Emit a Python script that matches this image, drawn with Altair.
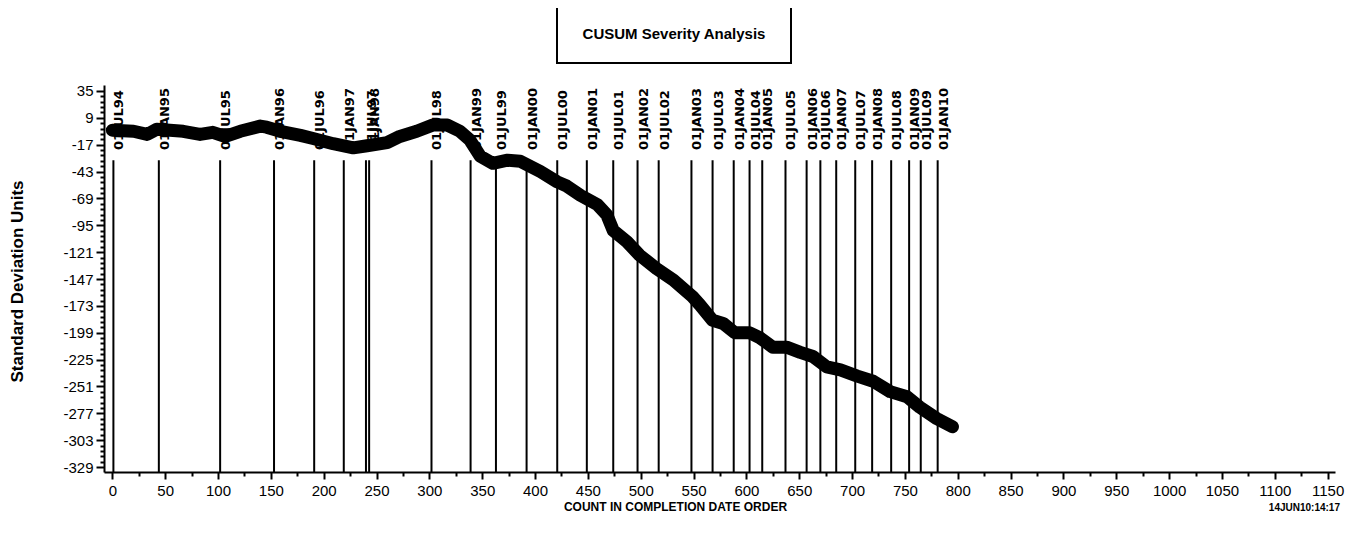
import altair as alt
import pandas as pd

# CUSUM curve (count in completion date order vs standard deviation units)
counts = [0, 20, 33, 42, 67, 83, 95, 107, 121, 140, 146, 159, 178, 190, 209, 228, 241,
          260, 272, 288, 303, 317, 329, 338, 348, 360, 374, 386, 405, 421, 430, 443,
          459, 468, 474, 487, 499, 515, 531, 549, 556, 568, 578, 589, 603, 613, 625,
          638, 651, 663, 676, 689, 705, 720, 736, 752, 764, 780, 795]
cusum = [-3, -4, -7, -2, -4, -7, -5, -9, -4, 1, 0, -4, -8, -11, -16, -20, -18,
         -15, -9, -4, 2, 2, -4, -12, -28, -35, -32, -33, -43, -53, -57, -66,
         -75, -85, -100, -111, -124, -137, -148, -164, -172, -187, -190, -199, -199, -204, -213,
         -213, -218, -222, -232, -235, -241, -246, -256, -261, -271, -282, -290]

# Half-year date markers and the count at which each occurs
event_labels = ["01JUL94", "01JAN95", "01JUL95", "01JAN96", "01JUL96", "01JAN97",
                "01JUL97", "01JAN98", "01JUL98", "01JAN99", "01JUL99", "01JAN00",
                "01JUL00", "01JAN01", "01JUL01", "01JAN02", "01JUL02", "01JAN03",
                "01JUL03", "01JAN04", "01JUL04", "01JAN05", "01JUL05", "01JAN06",
                "01JUL06", "01JAN07", "01JUL07", "01JAN08", "01JUL08", "01JAN09",
                "01JUL09", "01JAN10"]
event_counts = [1, 44, 102, 153, 191, 219, 240, 243, 302, 339, 363, 392, 421, 449,
                474, 497, 517, 548, 568, 588, 603, 615, 637, 657, 670, 685, 703, 719,
                737, 754, 765, 781]
event_top = -32

x_ticks = list(range(0, 1151, 25))
y_ticks = [round(35 - 5.2 * k, 1) for k in range(71)]

title_text = "CUSUM Severity Analysis"
x_title = "COUNT IN COMPLETION DATE ORDER"
y_title = "Standard Deviation Units"
stamp_text = "14JUN10:14:17"

W, H = 1231, 387
FONT = "Liberation Sans Narrow, Arial Narrow, Liberation Sans, sans-serif"

df_curve = pd.DataFrame({"x": counts, "y": cusum})
df_events = pd.DataFrame({"x": event_counts, "y": [event_top] * len(event_counts),
                          "label": event_labels})

x_scale = alt.Scale(domain=[-7.9, 1157], nice=False, zero=False)
y_scale = alt.Scale(domain=[-333.8, 40.8], nice=False, zero=False)

y_major = "abs((35 - datum.value) / 26 - round((35 - datum.value) / 26)) < 0.01"
x_major = "datum.value % 50 == 0"

x_axis = alt.Axis(
    values=x_ticks, tickCount=1000, grid=False,
    labelExpr=f"{x_major} ? '' + datum.value : ''",
    tickSize={"condition": {"test": x_major, "value": 7}, "value": 4},
    tickWidth=2, tickColor="black", domainWidth=2, domainColor="black",
    labelFont=FONT, labelFontSize=15, labelColor="black", labelPadding=4,
    labelOverlap=False, labelFlush=False,
    title=x_title, titleFont=FONT, titleFontSize=12, titleFontWeight="bold",
    titleColor="black", titleX=571, titleY=34, titleAlign="center",
    titleBaseline="middle",
)
y_axis = alt.Axis(
    values=y_ticks, tickCount=1000, grid=False,
    labelExpr=f"{y_major} ? '' + round(datum.value) : ''",
    tickSize={"condition": {"test": y_major, "value": 8}, "value": 4},
    tickWidth=2, tickColor="black", domainWidth=2, domainColor="black",
    labelFont=FONT, labelFontSize=15, labelColor="black", labelPadding=3,
    labelOverlap=False, labelFlush=False, labelBaseline="middle",
    title=y_title, titleFont=FONT, titleFontSize=17, titleFontWeight="bold",
    titleColor="black", titleX=-87, titleY=196, titleAngle=270,
    titleAlign="center", titleBaseline="middle",
)

labels = alt.Chart(df_events).mark_text(
    angle=270, align="left", baseline="top", font="DejaVu Sans", fontSize=13,
    fontWeight="bold", color="black"
).encode(
    x=alt.X("x:Q", scale=x_scale),
    y=alt.value(65),
    text="label:N",
)

lines = alt.Chart(df_events).mark_rule(color="black", strokeWidth=2).encode(
    x=alt.X("x:Q", scale=x_scale),
    y=alt.Y("y:Q", scale=y_scale),
    y2=alt.value(H),
)

curve = alt.Chart(df_curve).mark_line(
    color="black", strokeWidth=13, strokeCap="round", strokeJoin="round"
).encode(
    x=alt.X("x:Q", scale=x_scale, axis=x_axis),
    y=alt.Y("y:Q", scale=y_scale, axis=y_axis),
)

df_one = pd.DataFrame({"t": [title_text]})
box = alt.Chart(df_one).mark_rect(fill="white", stroke="black", strokeWidth=2).encode(
    x=alt.value(453), x2=alt.value(687), y=alt.value(-80), y2=alt.value(-22)
)
title = alt.Chart(df_one).mark_text(
    font=FONT, fontSize=15, fontWeight="bold", color="black",
    align="center", baseline="middle"
).encode(x=alt.value(570), y=alt.value(-51), text="t:N")

stamp = alt.Chart(pd.DataFrame({"t": [stamp_text]})).mark_text(
    font=FONT, fontSize=10, fontWeight="bold", color="black",
    align="right", baseline="middle"
).encode(x=alt.value(1236), y=alt.value(423), text="t:N")

chart = alt.layer(labels, lines, curve, box, title, stamp).properties(
    width=W, height=H,
    autosize=alt.AutoSizeParams(type="none"),
    padding={"left": 96, "top": 77, "right": 18, "bottom": 59},
    background="white",
).configure_view(stroke=None)

chart.save("out.html", embed_options={"renderer": "svg", "actions": False})
